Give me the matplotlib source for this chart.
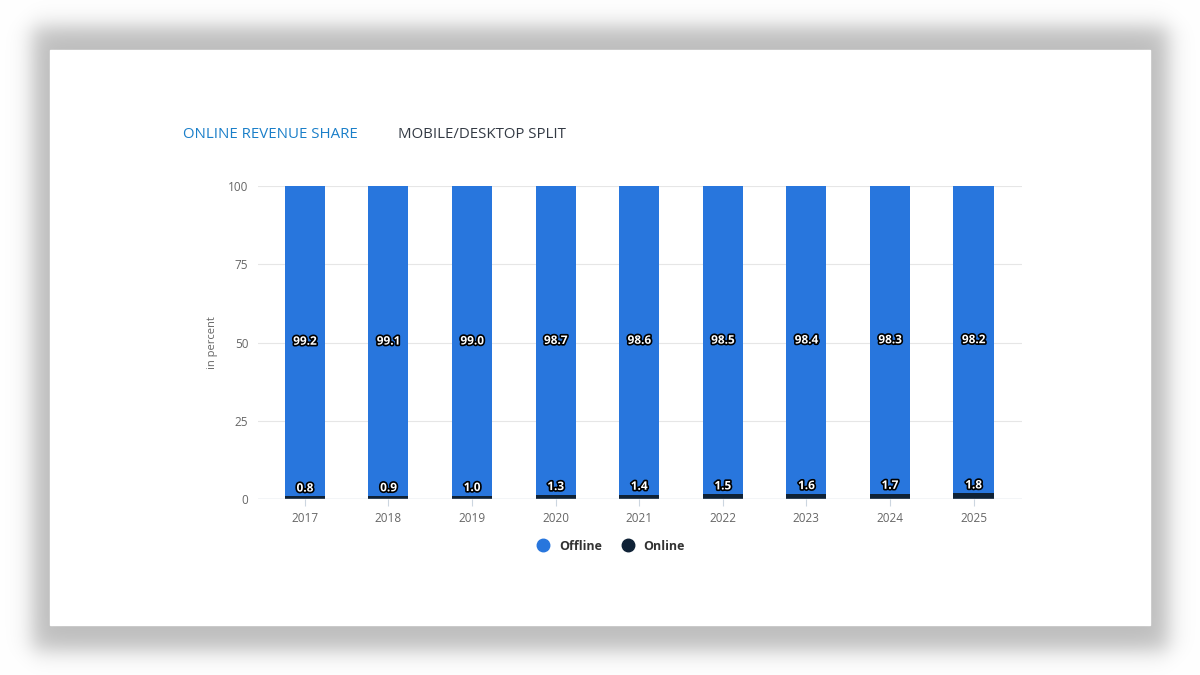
import numpy as np
import matplotlib
matplotlib.use('Agg')
import matplotlib.pyplot as plt
import matplotlib.patheffects as pe
from matplotlib.lines import Line2D

plt.rcParams['font.family'] = ['Open Sans', 'DejaVu Sans']

years = ['2017', '2018', '2019', '2020', '2021', '2022', '2023', '2024', '2025']
offline = [99.2, 99.1, 99.0, 98.7, 98.6, 98.5, 98.4, 98.3, 98.2]
online = [0.8, 0.9, 1.0, 1.3, 1.4, 1.5, 1.6, 1.7, 1.8]

c_off = '#2876dd'
c_on = '#0f2236'

W, H = 1200, 675
fig = plt.figure(figsize=(12, 6.75), dpi=100)

# soft shadow behind the white card
bg = fig.add_axes([0, 0, 1, 1])
xx = np.arange(W)[None, :]
yy = np.arange(H)[:, None]
s = 13.
fx = 0.5 * (np.tanh((xx - 32) / s) - np.tanh((xx - 1168) / s))
fy = 0.5 * (np.tanh((yy - 26) / s) - np.tanh((yy - 650) / s))
shade = 1 - 0.26 * fx * fy
bg.imshow(np.dstack([shade] * 3), extent=[0, W, H, 0], aspect='auto')
bg.add_patch(plt.Rectangle((50, 50), 1100, 575, color='white'))
bg.set_xlim(0, W)
bg.set_ylim(H, 0)
bg.axis('off')

ax = fig.add_axes([258 / W, 1 - 499 / H, (1022 - 258) / W, (499 - 186) / H])
x = np.arange(len(years))
ax.bar(x, online, width=0.48, color=c_on, zorder=3)
ax.bar(x, offline, width=0.48, bottom=online, color=c_off, zorder=3)

stroke = [pe.withStroke(linewidth=2.4, foreground='black')]
for i in range(len(years)):
    ax.text(x[i], online[i] + offline[i] / 2, f'{offline[i]:.1f}', ha='center', va='center',
            color='white', fontsize=8.5, fontweight='bold', path_effects=stroke, zorder=5)
    ax.text(x[i], online[i] + 0.6, f'{online[i]:.1f}', ha='center', va='bottom',
            color='white', fontsize=8.5, fontweight='bold', path_effects=stroke, zorder=5)

ax.set_xlim(-0.56, 8.58)
ax.set_ylim(0, 100)
ax.set_yticks([0, 25, 50, 75, 100])
ax.set_xticks(x)
ax.set_xticklabels(years)
ax.grid(axis='y', color='#e6e6e6', linewidth=0.8, zorder=0)
ax.axhline(0, color='#ccd6e0', linewidth=1, zorder=4)
for sp in ax.spines.values():
    sp.set_visible(False)
ax.tick_params(axis='y', length=0, pad=7, labelsize=8.5, labelcolor='#666666')
ax.tick_params(axis='x', length=5, width=0.8, color='#ccd6e0', pad=4, labelsize=8.5, labelcolor='#666666')
ax.set_ylabel('in percent', fontsize=8, color='#666666', labelpad=7)

fig.text(183 / W, 1 - 134 / H, 'ONLINE REVENUE SHARE', color='#1a7fc9', fontsize=10.8, va='center')
fig.text(398 / W, 1 - 134 / H, 'MOBILE/DESKTOP SPLIT', color='#333a44', fontsize=10.8, va='center')

handles = [Line2D([], [], marker='o', linestyle='', markersize=9, color=c_off),
           Line2D([], [], marker='o', linestyle='', markersize=9, color=c_on)]
leg = fig.legend(handles, ['Offline', 'Online'], loc='center', bbox_to_anchor=(608 / W, 1 - 546 / H),
                 ncol=2, frameon=False, handletextpad=0.3, columnspacing=1.0,
                 prop={'size': 9, 'weight': 'bold'})
for t in leg.get_texts():
    t.set_color('#333333')

fig.savefig('out.png', dpi=100)
